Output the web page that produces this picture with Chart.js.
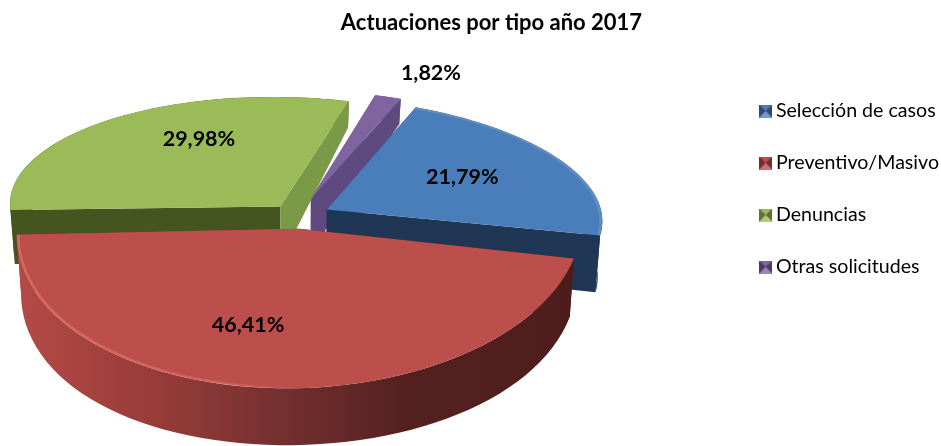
<!DOCTYPE html>
<html>
<head>
<meta charset="utf-8">
<title>Actuaciones por tipo</title>
<script src="https://cdn.jsdelivr.net/npm/chart.js@4"></script>
<style>
    html, body { margin: 0; padding: 0; background: #fff; }
    canvas { display: block; }
</style>
</head>
<body>
<canvas id="graf-tipos" width="941" height="446"></canvas>
<script>
var titulo = 'Actuaciones por tipo año 2017'
var categorias = ['Selección de casos', 'Preventivo/Masivo', 'Denuncias', 'Otras solicitudes']
var valores = [21.79, 46.41, 29.98, 1.82]
var etiquetas = ['21,79%', '46,41%', '29,98%', '1,82%']
var colores = ['#4a7ebb', '#bc4e4b', '#9bbb59', '#8064a2']

var FUENTE = 'Lato, sans-serif'

// genera el cuadrito biselado de la leyenda
function muestra(color){
    var c = document.createElement('canvas')
    c.width = 13
    c.height = 13
    var g = c.getContext('2d')
    g.fillStyle = color
    g.fillRect(0, 0, 13, 13)
    g.fillStyle = 'rgba(0,0,0,.4)'
    g.beginPath(); g.moveTo(0, 0); g.lineTo(6.5, 6.5); g.lineTo(0, 13); g.fill()
    g.beginPath(); g.moveTo(13, 0); g.lineTo(6.5, 6.5); g.lineTo(13, 13); g.fill()
    g.fillStyle = 'rgba(255,255,255,.22)'
    g.beginPath(); g.moveTo(0, 13); g.lineTo(6.5, 6.5); g.lineTo(13, 13); g.fill()
    return c
}

// proyeccion del plano de la torta a la pantalla (con perspectiva)
function proyectar(op, x, y){
    var s = 1 / (1 - y / op.distancia)
    return { x: op.cx + x * s, y: op.cy + y * op.inclinacion * s }
}

// ajusta una matriz afin por cada porcion, a partir de los angulos del arco
function matrizPorcion(op, el, i){
    var medio = (el.startAngle + el.endAngle) / 2
    var ox = Math.cos(medio) * op.separacion[i]
    var oy = Math.sin(medio) * op.separacion[i]
    var r = el.outerRadius
    var polar = function(ang){ return { u: r * Math.cos(ang), v: r * Math.sin(ang) } }

    // porcion grande: tres puntos del arco. porcion chica: vertice y extremos
    var grande = el.endAngle - el.startAngle > Math.PI * 0.75
    var p0 = grande ? polar(medio) : { u: 0, v: 0 }
    var p1 = polar(el.startAngle)
    var p2 = polar(el.endAngle)
    var A = proyectar(op, ox + p0.u, oy + p0.v)
    var P1 = proyectar(op, ox + p1.u, oy + p1.v)
    var P2 = proyectar(op, ox + p2.u, oy + p2.v)

    var u1 = p1.u - p0.u, v1 = p1.v - p0.v
    var u2 = p2.u - p0.u, v2 = p2.v - p0.v
    var det = u1 * v2 - u2 * v1
    var m = {
        a: ((P1.x - A.x) * v2 - (P2.x - A.x) * v1) / det,
        c: ((P2.x - A.x) * u1 - (P1.x - A.x) * u2) / det,
        b: ((P1.y - A.y) * v2 - (P2.y - A.y) * v1) / det,
        d: ((P2.y - A.y) * u1 - (P1.y - A.y) * u2) / det,
        oy: oy
    }
    m.e = A.x - m.a * p0.u - m.c * p0.v
    m.f = A.y - m.b * p0.u - m.d * p0.v
    return m
}

function aPantalla(m, u, v){
    return { x: m.a * u + m.c * v + m.e, y: m.b * u + m.d * v + m.f }
}

// punto inferior de la pared, segun que tan al frente esta
function aFondo(op, m, p, v){
    var t = (m.oy + v) / op.radioBase
    var h = op.grosor + op.grosorFrente * t - op.grosorCurva * t * t
    return { x: op.cx + (p.x - op.cx) * op.encogeFondo, y: p.y + h }
}

function pared(ctx, puntosArriba, puntosAbajo, relleno){
    ctx.beginPath()
    puntosArriba.forEach(function(p, n){
        if(n === 0){ ctx.moveTo(p.x, p.y) }else{ ctx.lineTo(p.x, p.y) }
    })
    puntosAbajo.slice().reverse().forEach(function(p){ ctx.lineTo(p.x, p.y) })
    ctx.closePath()
    ctx.fillStyle = relleno
    ctx.fill()
}

function dibujarParedes(ctx, op, el, i){
    var m = matrizPorcion(op, el, i)
    var r = el.outerRadius
    var tonos = op.paredes[i]
    var base = function(u, v){
        var p = aPantalla(m, u, v)
        return { arriba: p, abajo: aFondo(op, m, p, v) }
    }
    var radial = function(ang){
        var a = base(0, 0), b = base(r * Math.cos(ang), r * Math.sin(ang))
        return [[a.arriba, b.arriba], [a.abajo, b.abajo]]
    }
    var ini = radial(el.startAngle)
    pared(ctx, ini[0], ini[1], tonos.inicio)

    var fin = radial(el.endAngle)
    if(tonos.finAtras){
        pared(ctx, fin[0], fin[1], tonos.fin)
    }

    var arriba = [], abajo = []
    for(var n = 0; n <= 60; n++){
        var ang = el.startAngle + (el.endAngle - el.startAngle) * n / 60
        var q = base(r * Math.cos(ang), r * Math.sin(ang))
        arriba.push(q.arriba)
        abajo.push(q.abajo)
    }
    var relleno = tonos.curva
    if(Array.isArray(relleno)){
        var g = ctx.createLinearGradient(op.cx - r, 0, op.cx + r, 0)
        relleno.forEach(function(s){ g.addColorStop(s[0], s[1]) })
        relleno = g
    }
    pared(ctx, arriba, abajo, relleno)

    if(!tonos.finAtras){
        pared(ctx, fin[0], fin[1], tonos.fin)
    }
}

var torta3d = {
    id: 'torta3d',
    beforeDatasetDraw: function(){
        // las caras se dibujan despues, cada una con su matriz
        return false
    },
    afterDatasetsDraw: function(chart, args, op){
        var ctx = chart.ctx
        var arcos = chart.getDatasetMeta(0).data

        // paredes de atras hacia adelante
        op.ordenParedes.forEach(function(i){
            ctx.save()
            dibujarParedes(ctx, op, arcos[i], i)
            ctx.restore()
        })

        // caras superiores con el propio elemento arc de la libreria
        arcos.forEach(function(el, i){
            var m = matrizPorcion(op, el, i)
            ctx.save()
            ctx.transform(m.a, m.b, m.c, m.d, m.e, m.f)
            ctx.translate(-el.x, -el.y)
            el.draw(ctx)
            // brillo del borde
            var brillo = op.brillos[i]
            if(brillo){
                ctx.beginPath()
                ctx.arc(el.x, el.y, el.outerRadius - 1.5, el.startAngle, el.endAngle)
                ctx.restore()
                var g = ctx.createLinearGradient(op.cx - el.outerRadius, 0, op.cx + el.outerRadius, 0)
                brillo.forEach(function(s){ g.addColorStop(s[0], s[1]) })
                ctx.save()
                ctx.strokeStyle = g
                ctx.lineWidth = 2.5
                ctx.stroke()
            }
            ctx.restore()
        })

        // etiquetas de datos
        ctx.save()
        ctx.font = 'bold ' + op.tamEtiqueta + 'px ' + FUENTE
        ctx.fillStyle = '#000'
        ctx.textAlign = 'center'
        ctx.textBaseline = 'middle'
        arcos.forEach(function(el, i){
            var m = matrizPorcion(op, el, i)
            var ang = (el.startAngle + el.endAngle) / 2 + op.giroEtiqueta[i] * Math.PI / 180
            var r = el.outerRadius * op.radioEtiqueta[i]
            var p = aPantalla(m, r * Math.cos(ang), r * Math.sin(ang))
            ctx.fillText(etiquetas[i], p.x, p.y)
        })
        ctx.restore()
    }
}

function gerarGrafico(){
    try{
        new Chart(document.getElementById('graf-tipos').getContext('2d'), {
            type: 'pie',
            plugins: [torta3d],
            data: {
                labels: categorias,
                datasets: [{
                    data: valores,
                    backgroundColor: colores,
                    borderWidth: 0,
                    radius: 272
                }]
            },
            options: {
                responsive: false,
                animation: false,
                events: [],
                rotation: 23,
                layout: { padding: { left: 34, right: -8, bottom: 68 } },
                plugins: {
                    tooltip: { enabled: false },
                    title: {
                        display: true,
                        text: titulo,
                        color: '#000',
                        font: { family: FUENTE, size: 22, weight: 'bold' },
                        padding: { top: 10, bottom: 8 }
                    },
                    legend: {
                        position: 'right',
                        labels: {
                            color: '#000',
                            font: { family: FUENTE, size: 19.6 },
                            padding: 32.4,
                            boxWidth: 1,
                            boxHeight: 11,
                            usePointStyle: true,
                            generateLabels: function(chart){
                                return categorias.map(function(nome, i){
                                    return { text: nome, index: i, pointStyle: muestra(colores[i]), fontColor: '#000', lineWidth: 0 }
                                })
                            }
                        }
                    },
                    torta3d: {
                        cx: 297,
                        cy: 217,
                        distancia: 1800,
                        inclinacion: 0.473,
                        radioBase: 272,
                        grosor: 55,
                        grosorFrente: 15,
                        grosorCurva: 12,
                        encogeFondo: 0.985,
                        separacion: [34, 30, 28, 42],
                        ordenParedes: [3, 2, 0, 1],
                        tamEtiqueta: 21.5,
                        radioEtiqueta: [0.6, 0.625, 0.68, 1.27],
                        giroEtiqueta: [-3, 10, 13, 4.5],
                        paredes: [
                            { inicio: '#1f3655', curva: '#1f3655', fin: '#1f3655' },
                            { inicio: '#4d1d1c', curva: [[0, '#b24a46'], [0.15, '#a2403e'], [0.3, '#8f3937'], [0.5, '#6f2e2d'], [0.7, '#542120'], [1, '#4d1d1c']], fin: '#a2403e', finAtras: true },
                            { inicio: '#46541f', curva: '#46541f', fin: '#7b9a47' },
                            { inicio: '#5f4a80', curva: '#5f4a80', fin: '#5f4a80' }
                        ],
                        brillos: [
                            [[0, 'rgba(190,205,225,.2)'], [1, 'rgba(190,205,225,.2)']],
                            [[0, 'rgba(240,130,120,.5)'], [0.35, 'rgba(240,130,120,.4)'], [0.5, 'rgba(240,130,120,0)'], [1, 'rgba(240,130,120,0)']],
                            null,
                            null
                        ]
                    }
                }
            }
        })
    }catch(e){console.error(e)}
}

gerarGrafico()
</script>
</body>
</html>
